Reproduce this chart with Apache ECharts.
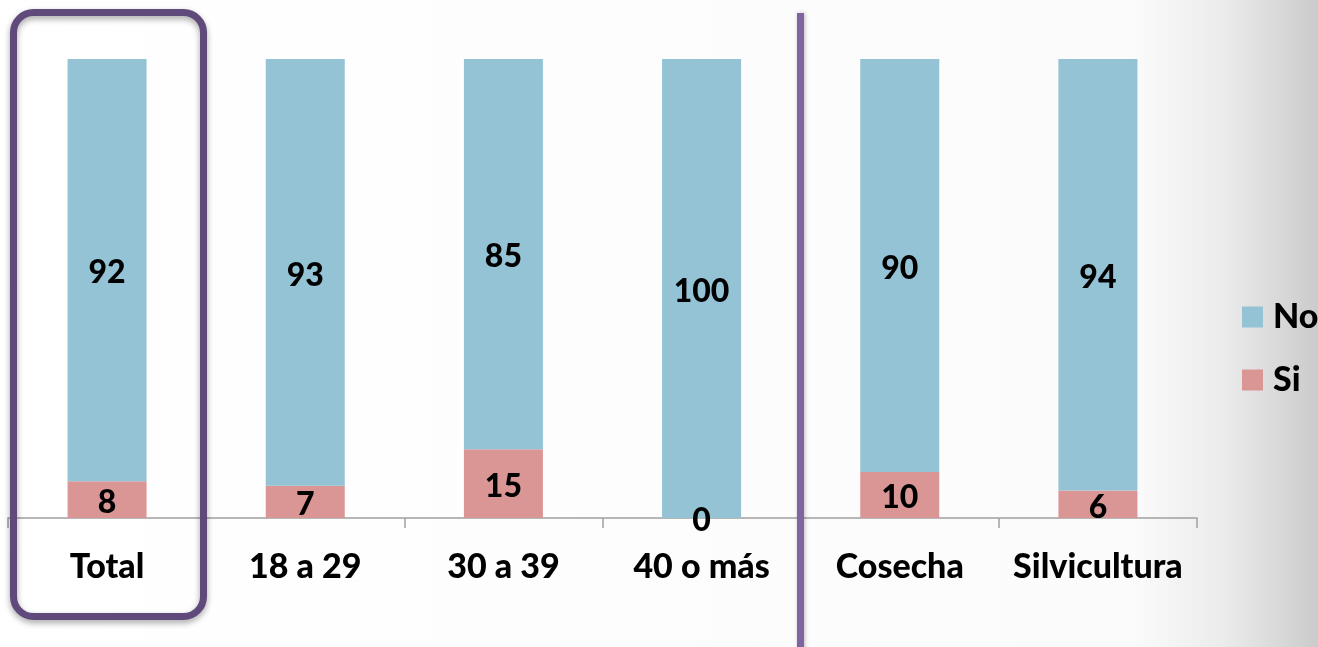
<!DOCTYPE html>
<html>
<head>
<meta charset="utf-8">
<script src="https://cdn.jsdelivr.net/npm/echarts@6/dist/echarts.min.js"></script>
<style>
  html, body { margin: 0; padding: 0; }
  #chart { width: 1318px; height: 647px; }
</style>
</head>
<body>
<div id="chart"></div>
<script>
// Grupos: total, tramos de edad y área de trabajo
const categories = ['Total', '18 a 29', '30 a 39', '40 o más', 'Cosecha', 'Silvicultura'];
// Porcentaje de respuestas
const siValues = [8, 7, 15, 0, 10, 6];
const noValues = [92, 93, 85, 100, 90, 94];

const FONT = 'Lato, "Open Sans", sans-serif';

const chart = echarts.init(document.getElementById('chart'), null, { renderer: 'canvas' });

const valueLabel = {
  show: true,
  position: 'inside',
  offset: [0, 3],
  color: '#000',
  fontFamily: FONT,
  fontWeight: 900,
  fontSize: 32
};

chart.setOption({
  backgroundColor: {
    type: 'linear', x: 0, y: 0, x2: 1, y2: 0,
    colorStops: [
      { offset: 0, color: '#ffffff' },
      { offset: 0.86, color: '#fbfbfb' },
      { offset: 0.93, color: '#ebebeb' },
      { offset: 1, color: '#cbcbcb' }
    ]
  },
  animation: false,
  grid: { left: 8, right: 121, top: 59, bottom: 129, containLabel: false },
  legend: {
    orient: 'vertical',
    left: 1242,
    top: 300,
    padding: 0,
    itemWidth: 21,
    itemHeight: 21,
    itemGap: 29,
    icon: 'rect',
    data: ['No', 'Si'],
    textStyle: {
      color: '#000', fontFamily: FONT, fontWeight: 900, fontSize: 34,
      lineHeight: 21, padding: [0, 0, 0, 5]
    }
  },
  xAxis: {
    type: 'category',
    data: categories,
    axisLine: { lineStyle: { color: '#a0a0a0', width: 1.5 } },
    axisTick: { show: true, length: 10, lineStyle: { color: '#a0a0a0', width: 1.5 } },
    axisLabel: {
      interval: 0,
      hideOverlap: false,
      color: '#000', fontFamily: FONT, fontWeight: 900, fontSize: 34, margin: 32
    }
  },
  yAxis: {
    type: 'value',
    min: 0,
    max: 100,
    show: false,
    splitLine: { show: false }
  },
  series: [
    {
      name: 'Si',
      type: 'bar',
      stack: 'total',
      data: siValues,
      barWidth: 79,
      itemStyle: { color: '#d99694' },
      label: valueLabel
    },
    {
      name: 'No',
      type: 'bar',
      stack: 'total',
      data: noValues,
      barWidth: 79,
      itemStyle: { color: '#93c3d5' },
      label: valueLabel
    }
  ],
  graphic: [
    {
      type: 'rect',
      shape: { x: 13.5, y: 12.5, width: 190, height: 604, r: 20 },
      style: {
        fill: 'none',
        stroke: '#604a7b',
        lineWidth: 7,
        shadowBlur: 6,
        shadowOffsetY: 3,
        shadowColor: 'rgba(0,0,0,0.35)'
      },
      z: 100
    },
    {
      type: 'rect',
      shape: { x: 797, y: 13, width: 7, height: 640 },
      style: {
        fill: '#8064a2',
        shadowBlur: 4,
        shadowOffsetX: 1,
        shadowColor: 'rgba(0,0,0,0.25)'
      },
      z: 100
    }
  ]
});
</script>
</body>
</html>
